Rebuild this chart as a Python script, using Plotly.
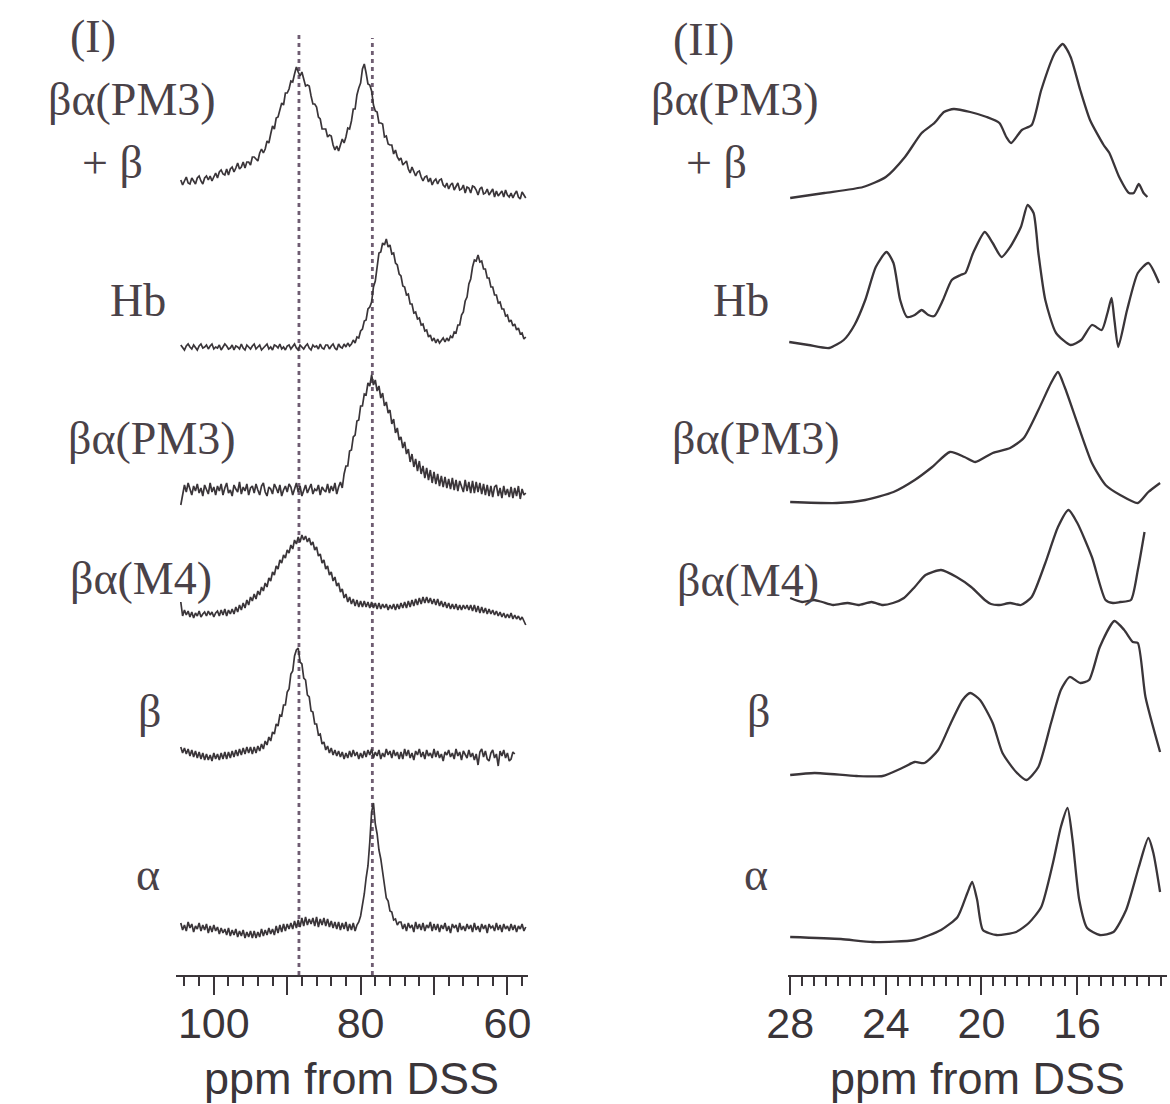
import plotly.graph_objects as go

# ---------------- Panel (I): spectra sampled every 0.25 ppm ----------------
ppm_left = [
    104.5, 104.25, 104.0, 103.75, 103.5, 103.25, 103.0, 102.75, 102.5, 102.25,
    102.0, 101.75, 101.5, 101.25, 101.0, 100.75, 100.5, 100.25, 100.0, 99.75,
    99.5, 99.25, 99.0, 98.75, 98.5, 98.25, 98.0, 97.75, 97.5, 97.25,
    97.0, 96.75, 96.5, 96.25, 96.0, 95.75, 95.5, 95.25, 95.0, 94.75,
    94.5, 94.25, 94.0, 93.75, 93.5, 93.25, 93.0, 92.75, 92.5, 92.25,
    92.0, 91.75, 91.5, 91.25, 91.0, 90.75, 90.5, 90.25, 90.0, 89.75,
    89.5, 89.25, 89.0, 88.75, 88.5, 88.25, 88.0, 87.75, 87.5, 87.25,
    87.0, 86.75, 86.5, 86.25, 86.0, 85.75, 85.5, 85.25, 85.0, 84.75,
    84.5, 84.25, 84.0, 83.75, 83.5, 83.25, 83.0, 82.75, 82.5, 82.25,
    82.0, 81.75, 81.5, 81.25, 81.0, 80.75, 80.5, 80.25, 80.0, 79.75,
    79.5, 79.25, 79.0, 78.75, 78.5, 78.25, 78.0, 77.75, 77.5, 77.25,
    77.0, 76.75, 76.5, 76.25, 76.0, 75.75, 75.5, 75.25, 75.0, 74.75,
    74.5, 74.25, 74.0, 73.75, 73.5, 73.25, 73.0, 72.75, 72.5, 72.25,
    72.0, 71.75, 71.5, 71.25, 71.0, 70.75, 70.5, 70.25, 70.0, 69.75,
    69.5, 69.25, 69.0, 68.75, 68.5, 68.25, 68.0, 67.75, 67.5, 67.25,
    67.0, 66.75, 66.5, 66.25, 66.0, 65.75, 65.5, 65.25, 65.0, 64.75,
    64.5, 64.25, 64.0, 63.75, 63.5, 63.25, 63.0, 62.75, 62.5, 62.25,
    62.0, 61.75, 61.5, 61.25, 61.0, 60.75, 60.5, 60.25, 60.0, 59.75,
    59.5, 59.25, 59.0, 58.75, 58.5, 58.25, 58.0, 57.75, 57.5]

left_pm3_beta = [
    15, 10, 14, 18, 12, 11, 17, 14, 11, 17, 19, 14, 11, 17, 19, 15, 19, 14, 18, 22,
    17, 23, 25, 21, 20, 26, 20, 26, 28, 23, 27, 32, 26, 28, 33, 27, 33, 33, 30, 38,
    38, 36, 34, 42, 46, 42, 46, 54, 52, 61, 69, 66, 77, 78, 85, 92, 90, 102, 102, 106,
    114, 113, 121, 128, 123, 119, 123, 116, 109, 110, 109, 99, 91, 91, 88, 78, 76, 66, 66, 66,
    58, 60, 59, 50, 45, 49, 44, 51, 56, 52, 58, 67, 66, 74, 86, 86, 100, 107, 112, 126,
    131, 122, 111, 110, 104, 90, 84, 83, 72, 72, 71, 58, 59, 51, 50, 50, 41, 45, 38, 35,
    37, 30, 32, 34, 26, 22, 28, 23, 19, 23, 24, 18, 14, 18, 19, 13, 17, 10, 14, 16,
    11, 15, 16, 10, 8, 12, 6, 10, 12, 5, 8, 12, 5, 6, 10, 2, 8, 7, 2, 9,
    8, 5, 0, 6, 8, 1, 2, 6, 0, 3, 6, -2, 4, -1, 1, 4, -2, 5, 0, -2,
    2, -3, 1, 4, -2, -4, 3, 0, -3]

left_hb = [
    2, -1, -3, 1, 3, 0, -2, 2, -1, -3, 1, 3, -1, 0, 2, -2, 1, 3, -2, 0,
    -1, 2, -3, 0, 3, 1, -2, -1, 2, -3, 1, 0, -2, 3, -1, -3, 2, 0, -2, 1,
    3, -2, 0, 2, -3, -1, 1, 3, -2, 0, -3, 2, 1, -1, 3, -2, 0, -3, 1, 2,
    -2, 1, 3, -1, -3, 2, 0, -2, 1, 3, -1, -3, 2, 0, 1, -2, 3, -1, -2, 2,
    2, -2, 1, 3, -1, -3, 3, 0, -1, 3, 0, 4, 1, 3, 7, 4, 10, 9, 16, 18,
    26, 27, 38, 40, 45, 60, 66, 82, 94, 95, 104, 102, 108, 100, 102, 93, 94, 84, 82, 73,
    71, 61, 60, 52, 53, 43, 43, 34, 35, 28, 29, 22, 23, 16, 17, 10, 12, 6, 9, 4,
    8, 4, 7, 9, 5, 9, 6, 11, 9, 15, 14, 22, 22, 32, 35, 46, 50, 63, 68, 80,
    87, 86, 92, 85, 86, 78, 78, 69, 69, 60, 60, 52, 52, 44, 45, 38, 38, 31, 32, 25,
    27, 21, 23, 17, 19, 13, 14, 8, 10]

left_pm3 = [
    -15, -4, 5, -2, 7, 1, -5, 4, -1, 6, -3, 2, -6, 5, 0, -4, 7, -2, 3, -5,
    4, -1, 6, -5, 2, 7, -3, 0, -6, 5, 1, -2, 8, -4, 3, -1, 6, -5, 2, 4,
    -3, 6, 0, -5, 4, 7, -2, -6, 3, 1, -4, 6, 2, -3, 5, -6, 0, 4, -2, 6,
    3, -5, 1, 7, -2, 4, -6, 0, 5, -3, 2, 6, -4, 1, -1, 5, -5, 3, 0, -2,
    6, -3, 4, -1, 7, -4, 3, 8, 2, 16, 24, 24, 39, 40, 53, 55, 69, 70, 84, 84,
    96, 95, 107, 104, 115, 105, 110, 99, 104, 92, 97, 84, 88, 77, 80, 66, 71, 57, 62, 50,
    53, 42, 48, 36, 41, 28, 36, 23, 31, 19, 29, 16, 24, 12, 22, 10, 20, 7, 18, 6,
    16, 4, 14, 3, 13, 2, 11, 1, 12, 0, 10, -1, 9, 4, -2, 10, -1, 8, -3, 9,
    -3, 8, -2, 7, -4, 6, -5, 5, -6, 4, -7, 3, 5, -6, 2, -8, 4, -5, 1, -7,
    3, -8, 2, -6, 4, -9, 1, -5, -3]

left_m4 = [
    8, -6, 0, -5, -1, -7, -2, -8, -3, -6, -1, -7, -4, -2, -6, -1, -5, -2, -7, -3,
    -1, -6, 0, -5, 1, -6, 0, -4, 1, -4, 3, -2, 5, 0, 7, 2, 10, 5, 13, 9,
    16, 11, 19, 15, 23, 19, 27, 23, 32, 29, 38, 35, 44, 41, 50, 47, 55, 52, 60, 57,
    65, 61, 70, 66, 73, 68, 75, 70, 74, 68, 72, 65, 68, 60, 63, 54, 56, 47, 50, 41,
    44, 35, 38, 29, 33, 24, 27, 18, 21, 12, 16, 8, 13, 6, 11, 4, 10, 3, 9, 3,
    9, 3, 8, 2, 8, 2, 7, 1, 7, 1, 6, 2, 6, 0, 5, 1, 6, 0, 6, 1,
    7, 2, 8, 2, 9, 3, 10, 4, 11, 5, 12, 6, 13, 7, 13, 7, 12, 6, 11, 5,
    11, 4, 9, 3, 8, 2, 7, 1, 6, 1, 6, 0, 5, 0, 5, 1, 5, 0, 5, -1,
    5, -2, 4, -3, 3, -3, 2, -4, 1, -4, 0, -5, -1, -6, -2, -7, -3, -8, -4, -8,
    -3, -9, -5, -9, -6, -10, -7, -12, -15]

left_beta = [
    8, 2, 7, 1, 6, -1, 5, -2, 4, -3, 3, -4, 2, -5, 1, -5, 0, -6, 2, -4,
    1, -5, 2, -4, 3, -4, 3, -3, 4, -2, 5, -1, 6, 0, 7, 1, 8, 2, 8, 1,
    8, 2, 9, 4, 11, 6, 14, 10, 18, 14, 23, 21, 31, 29, 40, 39, 50, 50, 63, 66,
    81, 84, 99, 105, 107, 93, 91, 77, 75, 60, 58, 44, 43, 31, 31, 20, 21, 11, 13, 5,
    9, 2, 7, 0, 5, -1, 4, -2, 3, -4, 2, -3, 4, -2, 5, -1, 3, -4, 2, -3,
    4, -2, 5, 0, 6, -3, 3, -1, 5, -4, 2, -2, 6, 0, 4, -3, 5, -1, 3, -4,
    3, -4, 6, -1, 5, -3, 2, -5, 4, 0, 6, -2, 3, -4, 5, -1, 2, -3, 6, -2,
    4, -3, 1, -6, 3, 0, 5, -2, 2, -4, 6, -1, 3, -5, 4, 0, -3, 5, -2, 2,
    -5, 1, -10, 3, 6, -2, 4, -4, -6, 2, 5, -3, 1, -11, 4, -1, 5, -3, 2, -6,
    -4, 3, 1]

left_alpha = [
    7, 0, 5, -1, 8, 2, 6, -2, 4, 1, 7, -1, 5, 0, 6, -3, 4, -2, 5, -1,
    3, -4, 2, -3, 1, -5, 2, -6, 0, -5, 1, -7, -1, -6, 0, -8, -2, -7, -1, -8,
    -1, -8, -2, -7, 1, -6, 0, -5, 2, -4, 1, -5, 4, -3, 5, -2, 6, -1, 6, 1,
    7, 1, 9, 2, 10, 3, 12, 4, 13, 5, 11, 6, 12, 4, 13, 3, 11, 5, 12, 4,
    11, 3, 9, 2, 8, 1, 8, 0, 7, 1, 8, -1, 6, 0, 7, -1, 5, 8, 14, 24,
    36, 52, 64, 88, 118, 127, 106, 96, 80, 71, 56, 47, 32, 29, 19, 18, 10, 11, 5, 8,
    8, 1, 6, -1, 7, 2, 5, -2, 8, 1, 6, 0, 7, -1, 5, 2, 8, -1, 6, 0,
    6, -2, 5, 1, 7, -1, 4, -3, 6, 2, 5, -2, 7, 0, 4, -1, 6, 1, 5, -2,
    7, 0, 4, -2, 6, 1, 5, -3, 6, 2, 4, -1, 7, 0, 5, -2, 6, 1, 4, -1,
    6, 0, 5, -2, 4, 1, 6, -1, 3]

left_series = [left_pm3_beta, left_hb, left_pm3, left_m4, left_beta, left_alpha]
left_offsets = [780, 628, 485, 365, 220, 45]
left_marker_ppm = [88.4, 78.4]
left_marker_top = [940, 937]

# ---------------- Panel (II) ----------------
r1_ppm = [28.0, 26.57, 24.95, 24.0, 23.2, 22.5, 21.97, 21.57, 21.16, 20.47, 19.78, 19.25,
          18.96, 18.76, 18.31, 17.9, 17.5, 16.93, 16.6, 16.27, 15.87, 15.46, 14.89, 14.65,
          14.24, 13.83, 13.63, 13.42, 13.22, 13.06]
r1_val = [0, 5, 11, 21, 41, 65, 75, 86, 89, 86, 81, 75,
          61, 55, 68, 73, 108, 145, 154, 141, 108, 78, 53, 45,
          21, 5, 5, 14, 5, 1]

r2_ppm = [28.04, 27.23, 26.37, 25.76, 25.31, 24.86, 24.42, 23.97, 23.68, 23.4, 23.11, 22.79,
          22.5, 22.22, 21.97, 21.61, 21.24, 20.87, 20.67, 20.35, 19.86, 19.53, 19.16, 18.8,
          18.35, 18.07, 17.82, 17.62, 17.33, 16.88, 16.27, 15.83, 15.38, 14.97, 14.73, 14.56,
          14.44, 14.28, 13.91, 13.46, 13.02, 12.57]
r2_val = [6, 3, 0, 8, 23, 48, 81, 96, 85, 48, 31, 33,
          38, 33, 32, 48, 68, 73, 75, 95, 116, 105, 91, 101,
          121, 143, 135, 95, 48, 15, 3, 8, 23, 18, 35, 50,
          28, 1, 38, 75, 85, 65]

r3_ppm = [28.0, 26.05, 24.86, 23.68, 22.79, 22.06, 21.32, 20.71, 20.26, 19.53, 18.8, 18.23,
          17.62, 17.09, 16.8, 16.52, 15.99, 15.38, 14.81, 14.2, 13.46, 13.02, 12.53]
r3_val = [1, 0, 3, 11, 23, 36, 51, 46, 41, 50, 55, 65,
          93, 120, 131, 116, 80, 40, 18, 8, 0, 11, 20]

r4_ppm = [28.0, 27.5, 27.0, 26.66, 26.2, 25.6, 25.15, 24.6, 24.13, 23.7, 23.24, 22.79,
          22.34, 21.69, 21.04, 20.43, 19.86, 19.6, 19.25, 18.8, 18.35, 17.9, 17.33, 16.8,
          16.36, 15.99, 15.38, 14.81, 14.5, 14.2, 13.75, 13.46, 13.18]
r4_val = [7, 3, 5, 3, 0, 2, 0, 3, 0, 2, 7, 18,
          30, 35, 28, 18, 5, 1, 0, 2, 0, 8, 42, 78,
          95, 82, 48, 5, 2, 3, 5, 35, 73]

r5_ppm = [28.0, 26.98, 25.23, 24.13, 23.32, 22.79, 22.38, 21.81, 21.28, 20.79, 20.47, 20.06,
          19.53, 19.12, 18.55, 18.11, 17.62, 17.09, 16.68, 16.31, 15.87, 15.5, 15.05, 14.44,
          14.03, 13.67, 13.46, 13.14, 12.53]
r5_val = [1, 3, 0, 0, 8, 14, 13, 26, 53, 76, 83, 76,
          53, 23, 4, -4, 9, 53, 86, 99, 93, 96, 129, 155,
          146, 134, 133, 79, 24]

r6_ppm = [28.0, 25.88, 24.54, 22.79, 21.69, 21.0, 20.59, 20.39, 20.18, 19.94, 19.37, 18.55,
          18.02, 17.5, 17.01, 16.68, 16.4, 16.19, 15.91, 15.58, 15.05, 14.48, 13.95, 13.42,
          13.02, 12.81, 12.53]
r6_val = [3, 1, -2, 0, 10, 23, 47, 58, 40, 10, 5, 8,
          17, 33, 77, 113, 132, 100, 40, 12, 5, 8, 30, 73,
          102, 87, 48]

right_ppm = [r1_ppm, r2_ppm, r3_ppm, r4_ppm, r5_ppm, r6_ppm]
right_series = [r1_val, r2_val, r3_val, r4_val, r5_val, r6_val]
right_offsets = [777, 627, 472, 370, 199, 35]

sample_names = ["βα(PM3) + β", "Hb", "βα(PM3)", "βα(M4)", "β", "α"]
left_ticks = [100, 90, 80, 70, 60]
left_ticktext = ["100", "", "80", "", "60"]
right_ticks = [28, 24, 20, 16]
right_ticktext = ["28", "24", "20", "16"]

# ---------------- styling ----------------
INK = "#3a3539"
TEXT = "#4a4248"
DOT = "#6f5d72"
W, H = 1170, 1104
AX_Y = 975            # pixel row of the x axis lines
PLOT_H = AX_Y         # plot area spans pixel rows 0..975

fig = go.Figure()

for vals, off, name in zip(left_series, left_offsets, sample_names):
    xs = ppm_left[:len(vals)]
    fig.add_trace(go.Scatter(x=xs, y=[off + v for v in vals], mode="lines",
                             line=dict(color=INK, width=1.7), name=name,
                             xaxis="x", yaxis="y", showlegend=False, hoverinfo="skip"))

for xs, vals, off, name in zip(right_ppm, right_series, right_offsets, sample_names):
    fig.add_trace(go.Scatter(x=xs, y=[off + v for v in vals], mode="lines",
                             line=dict(color=INK, width=2.3, shape="spline", smoothing=0.6),
                             name=name, xaxis="x2", yaxis="y2", showlegend=False,
                             hoverinfo="skip"))

for p, top in zip(left_marker_ppm, left_marker_top):
    fig.add_shape(type="line", xref="x", yref="y", x0=p, x1=p, y0=0, y1=top,
                  line=dict(color=DOT, width=2.8, dash="4px,4px"), layer="below")

tickfont = dict(family="Liberation Sans, Arial, sans-serif", size=43, color=INK)
titlefont = dict(family="Liberation Sans, Arial, sans-serif", size=45, color=INK)
common_x = dict(showline=True, linecolor=INK, linewidth=2, ticks="outside",
                ticklen=18, tickwidth=2, tickcolor=INK, showgrid=False, zeroline=False,
                tickfont=tickfont, ticklabelstandoff=-9)

fig.update_layout(
    width=W, height=H, margin=dict(l=0, r=0, t=0, b=H - AX_Y),
    paper_bgcolor="white", plot_bgcolor="white", showlegend=False,
    xaxis=dict(domain=[157 / W, 517 / W], range=[105.2, 57.2],
               tickmode="array", tickvals=left_ticks, ticktext=left_ticktext,
               minor=dict(dtick=2, tick0=0, ticks="outside", ticklen=9, tickwidth=1.5,
                          tickcolor=INK),
               anchor="y", **common_x),
    yaxis=dict(domain=[0, 1], range=[0, PLOT_H], visible=False, fixedrange=True),
    xaxis2=dict(domain=[783 / W, 1.0], range=[28.08, 12.24],
                tickmode="array", tickvals=right_ticks, ticktext=right_ticktext,
                minor=dict(dtick=0.5, tick0=0, ticks="outside", ticklen=9, tickwidth=1.5,
                           tickcolor=INK),
                anchor="y2", **common_x),
    yaxis2=dict(domain=[0, 1], range=[0, PLOT_H], visible=False, fixedrange=True,
                anchor="x2"),
)


def py_to_paper(py):
    return (AX_Y - py) / PLOT_H


serif = dict(family="Liberation Serif, Times New Roman, serif", size=46, color=TEXT)
label_pos_left = [(73, 37, "(I)"), (112, 99, "βα(PM3)"), (92, 163, "+ β"),
                  (119, 300, "Hb"), (133, 438, "βα(PM3)"), (122, 578, "βα(M4)"),
                  (130, 712, "β"), (129, 874, "α")]
label_pos_right = [(696, 39, "(II)"), (729, 99, "βα(PM3)"), (710, 163, "+ β"),
                   (735, 300, "Hb"), (750, 438, "βα(PM3)"), (742, 581, "βα(M4)"),
                   (753, 712, "β"), (750, 874, "α")]
for px, py, txt in label_pos_left + label_pos_right:
    fig.add_annotation(x=px / W, y=py_to_paper(py), xref="paper", yref="paper", text=txt,
                       showarrow=False, xanchor="center", yanchor="middle", font=serif)

# axis titles
for cx in [337, 976]:
    fig.add_annotation(x=cx / W, y=py_to_paper(1078), xref="paper", yref="paper",
                       text="ppm from DSS", showarrow=False, xanchor="center",
                       yanchor="middle", font=titlefont)

fig.write_html("out.html")
